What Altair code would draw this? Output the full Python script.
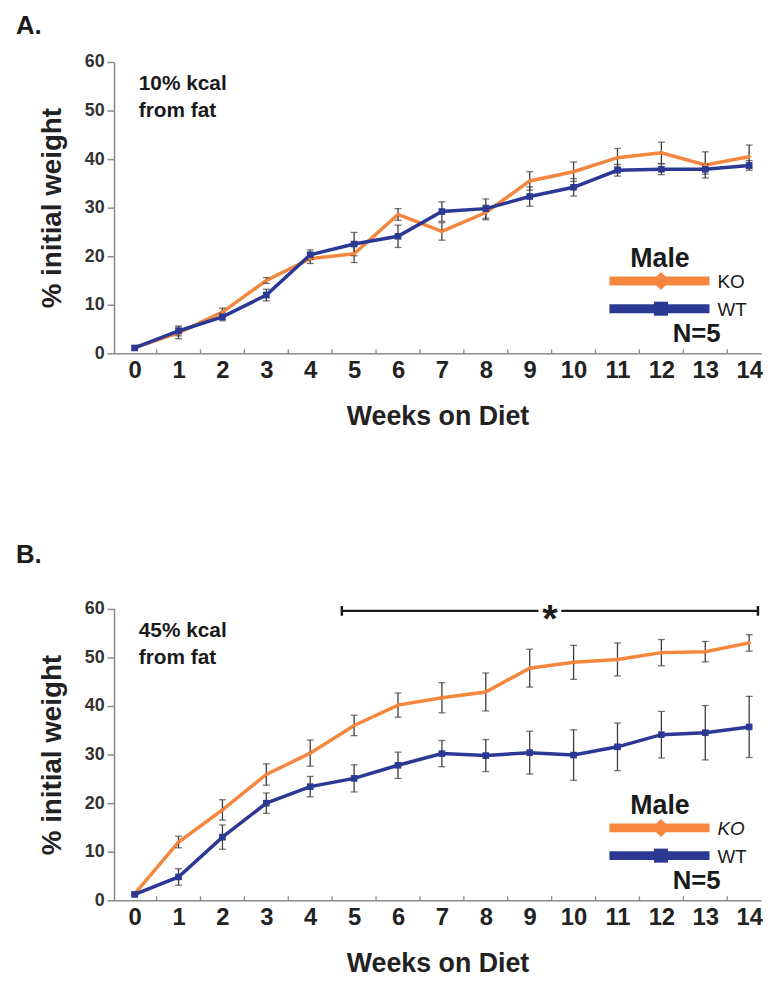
import altair as alt
import pandas as pd

weeks = list(range(15))

# Panel A: 10% kcal from fat
ko_a = [1.2, 4.2, 8.5, 15.0, 19.5, 20.5, 28.6, 25.1, 29.0, 35.5, 37.4, 40.3, 41.3, 38.8, 40.5]
ko_a_err = [0.3, 1.2, 0.8, 0.6, 1.0, 1.8, 1.2, 1.8, 1.5, 1.9, 2.0, 1.9, 2.2, 2.7, 2.4]
wt_a = [1.1, 4.6, 7.5, 12.0, 20.3, 22.5, 24.1, 29.2, 29.8, 32.3, 34.2, 37.7, 37.9, 37.9, 38.7]
wt_a_err = [0.3, 1.0, 0.8, 1.2, 1.0, 2.4, 2.3, 2.0, 2.0, 2.0, 1.8, 1.2, 1.1, 1.0, 1.0]

# Panel B: 45% kcal from fat
ko_b = [1.3, 12.0, 18.6, 25.9, 30.3, 36.0, 40.2, 41.7, 42.9, 47.8, 49.0, 49.6, 51.0, 51.2, 53.0]
ko_b_err = [0.3, 1.2, 2.1, 2.2, 2.7, 2.1, 2.5, 3.1, 3.9, 3.9, 3.5, 3.4, 2.7, 2.1, 1.7]
wt_b = [1.2, 4.8, 13.0, 20.0, 23.4, 25.1, 27.8, 30.2, 29.8, 30.4, 29.9, 31.6, 34.1, 34.5, 35.7]
wt_b_err = [0.3, 1.7, 2.5, 2.1, 2.1, 2.8, 2.7, 2.7, 3.3, 4.4, 5.2, 4.9, 4.8, 5.6, 6.3]

groups = ["KO", "WT"]
colors = ["#F5863E", "#2B3894"]
y_ticks = [0, 10, 20, 30, 40, 50, 60]
minor_ticks = [w + 0.5 for w in weeks[:-1]]

# significance bracket in panel B (weeks / % units)
sig_start, sig_end, sig_y = 4.72, 14.2, 59.6
star_x = 9.46
star_gap = 0.26

FONT = "Liberation Sans"
W, H = 653, 294

x_scale = alt.Scale(domain=[-0.47, 14.27], nice=False, zero=False)
y_scale = alt.Scale(domain=[0, 60], nice=False, zero=False)

x_axis = alt.Axis(values=weeks, ticks=False, grid=False, domainColor="#8a8a8a", domainWidth=1.5,
                  labelFont=FONT, labelFontSize=24, labelFontWeight="bold", labelColor="#222",
                  labelPadding=5, format="d",
                  title="Weeks on Diet", titleFont=FONT, titleFontSize=27, titleFontWeight="bold",
                  titleColor="#222", titlePadding=22)
y_axis = alt.Axis(values=y_ticks, grid=False, domainColor="#8a8a8a", domainWidth=1.5,
                  tickColor="#8a8a8a", tickSize=7, tickWidth=1.5,
                  labelFont=FONT, labelFontSize=18, labelFontWeight="bold", labelColor="#333",
                  labelPadding=3,
                  title="% initial weight", titleFont=FONT, titleFontSize=28, titleFontWeight="bold",
                  titleColor="#222", titlePadding=18)

X = alt.X("week:Q", scale=x_scale, axis=x_axis)


def Y(field):
    return alt.Y(field, scale=y_scale, axis=y_axis)


color = alt.Color("group:N", scale=alt.Scale(domain=groups, range=colors), legend=None)


def text_mark(s, x, y, size, weight="bold", align="left", style="normal", col="#1a1a1a"):
    return alt.Chart(pd.DataFrame({"t": [s]})).mark_text(
        font=FONT, fontSize=size, fontWeight=weight, align=align, baseline="alphabetic",
        fontStyle=style, color=col
    ).encode(text="t:N", x=alt.value(x), y=alt.value(y))


def panel(ko, ko_err, wt, wt_err, letter, diet, ko_style, sig=False):
    rows = []
    for g, vals, errs in (("KO", ko, ko_err), ("WT", wt, wt_err)):
        for w, v, e in zip(weeks, vals, errs):
            rows.append({"week": w, "group": g, "value": v, "lo": v - e, "hi": v + e})
    df = pd.DataFrame(rows)

    lines = alt.Chart(df).mark_line(strokeWidth=3.5).encode(x=X, y=Y("value:Q"), color=color,
                                                            order=alt.Order("week:Q"))
    errs = alt.Chart(df).mark_errorbar(ticks=True, size=7, thickness=1.3, color="#3c3c3c").encode(
        x=X, y=Y("lo:Q"), y2="hi:Q")
    pts = alt.Chart(df).mark_point(filled=True, opacity=1).encode(
        x=X, y=Y("value:Q"), color=color,
        shape=alt.Shape("group:N", scale=alt.Scale(domain=groups, range=["diamond", "square"]), legend=None),
        size=alt.Size("group:N", scale=alt.Scale(domain=groups, range=[20, 45]), legend=None))

    ticks = alt.Chart(pd.DataFrame({"week": minor_ticks})).mark_rule(color="#8a8a8a", strokeWidth=1.3).encode(
        x=X, y=alt.value(H), y2=alt.value(H - 4))

    layers = [ticks, lines, errs, pts]

    # custom legend
    leg_x0, leg_x1, leg_xm = 500, 601, 552
    for g, c, yy, shp, sz in (("KO", colors[0], 221, "diamond", 330), ("WT", colors[1], 249, "square", 200)):
        layers.append(alt.Chart(pd.DataFrame({"g": [g]})).mark_rule(color=c, strokeWidth=9).encode(
            x=alt.value(leg_x0), x2=alt.value(leg_x1), y=alt.value(yy)))
        layers.append(alt.Chart(pd.DataFrame({"g": [g]})).mark_point(
            shape=shp, filled=True, color=c, opacity=1, size=sz).encode(x=alt.value(leg_xm), y=alt.value(yy)))
        layers.append(text_mark(g, 609, yy + 7, 19, weight="normal", style=ko_style if g == "KO" else "normal"))
    layers.append(text_mark("Male", 551, 207, 27, align="center"))
    layers.append(text_mark("N=5", 588, 283, 26, align="center"))

    # diet annotation
    layers.append(text_mark(diet[0], 25, 28, 21))
    layers.append(text_mark(diet[1], 25, 56, 21))
    # panel letter
    layers.append(text_mark(letter, -99, -28 if letter == "A." else -46, 26))

    if sig:
        seg = pd.DataFrame({"week": [sig_start, star_x + star_gap], "week2": [star_x - star_gap, sig_end],
                            "value": [sig_y, sig_y]})
        layers.append(alt.Chart(seg).mark_rule(color="#1a1a1a", strokeWidth=2.5).encode(
            x=X, x2="week2:Q", y=Y("value:Q")))
        caps = pd.DataFrame({"week": [sig_start, sig_end], "lo": [sig_y - 1.0, sig_y - 1.0],
                             "hi": [sig_y + 1.0, sig_y + 1.0]})
        layers.append(alt.Chart(caps).mark_rule(color="#1a1a1a", strokeWidth=2.5).encode(
            x=X, y=Y("lo:Q"), y2="hi:Q"))
        star = pd.DataFrame({"week": [star_x], "value": [sig_y], "t": ["*"]})
        layers.append(alt.Chart(star).mark_text(font=FONT, fontSize=40, fontWeight="bold",
                                                baseline="alphabetic", dy=21, color="#1a1a1a").encode(
            x=X, y=Y("value:Q"), text="t:N"))

    return alt.layer(*layers).properties(width=W, height=H)


pa = panel(ko_a, ko_a_err, wt_a, wt_a_err, "A.", ["10% kcal", "from fat"], "normal")
pb = panel(ko_b, ko_b_err, wt_b, wt_b_err, "B.", ["45% kcal", "from fat"], "italic", sig=True)

chart = alt.vconcat(pa, pb, spacing=114).configure_view(stroke=None).properties(
    padding={"left": 8, "top": 1, "right": 0, "bottom": 0})

chart.save("out.html", embed_options={"renderer": "svg", "actions": False})
